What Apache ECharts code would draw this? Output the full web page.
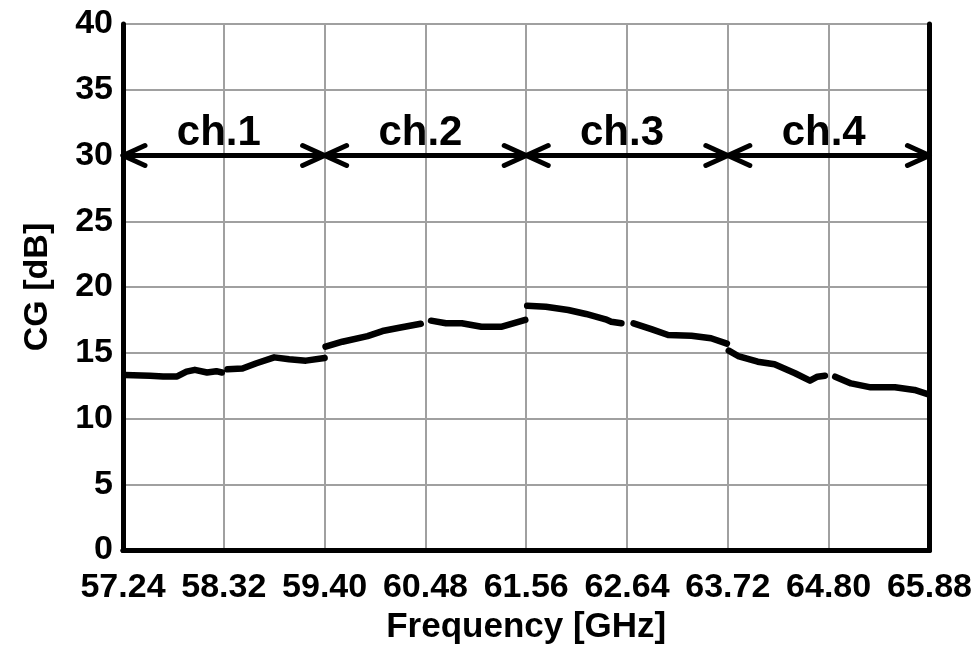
<!DOCTYPE html>
<html>
<head>
<meta charset="utf-8">
<title>CG vs Frequency</title>
<script src="https://cdn.jsdelivr.net/npm/echarts@6/dist/echarts.min.js"></script>
<style>
  html, body { margin: 0; padding: 0; background: #fff; }
  #chart { width: 975px; height: 654px; }
</style>
</head>
<body>
<div id="chart"></div>
<script>
// Measured conversion gain; '-' marks breaks in the trace
const freqGHz = [
  57.26, 57.53, 57.67, 57.82, 57.92, 58.01, 58.14, 58.24, 58.30, 58.33,
  58.36, 58.52, 58.67, 58.86, 59.02, 59.20, 59.40, 59.405,
  59.41, 59.59, 59.86, 60.02, 60.20, 60.43, 60.48,
  60.54, 60.70, 60.87, 61.08, 61.30, 61.55, 61.56,
  61.57, 61.77, 62.01, 62.20, 62.41, 62.47, 62.58, 62.64,
  62.71, 62.90, 63.08, 63.33, 63.54, 63.71, 63.72,
  63.73, 63.83, 64.04, 64.22, 64.44, 64.60, 64.68, 64.76, 64.80,
  64.87, 65.04, 65.25, 65.51, 65.72, 65.86
];
const cgDb = [
  13.30, 13.25, 13.20, 13.20, 13.56, 13.70, 13.50, 13.60, 13.50, '-',
  13.74, 13.80, 14.20, 14.65, 14.50, 14.40, 14.60, '-',
  15.46, 15.84, 16.27, 16.65, 16.90, 17.20, '-',
  17.44, 17.24, 17.24, 16.98, 16.98, 17.50, '-',
  18.58, 18.50, 18.25, 17.95, 17.54, 17.36, 17.24, '-',
  17.24, 16.80, 16.35, 16.30, 16.10, 15.70, '-',
  15.16, 14.75, 14.32, 14.12, 13.44, 12.88, 13.18, 13.25, '-',
  13.18, 12.67, 12.37, 12.37, 12.17, 11.86
];

// Channel bands drawn as double-headed arrows at 30 dB
const channelNames = ['ch.1', 'ch.2', 'ch.3', 'ch.4'];
const channelStart = [57.24, 59.40, 61.56, 63.72];
const channelEnd = [59.40, 61.56, 63.72, 65.88];
const channelLevel = 30;

const xMin = 57.24, xMax = 65.88, xStep = 1.08;
const yMin = 0, yMax = 40, yStep = 5;

const FONT = '"Liberation Sans", Arial, sans-serif';

const curve = freqGHz.map((f, i) => [f, cgDb[i]]);
const bands = channelStart.map((s, i) => [s, channelEnd[i], channelLevel, i]);

const chart = echarts.init(document.getElementById('chart'), null, { renderer: 'canvas' });

const hiddenAxis = {
  axisLabel: { show: false }, axisTick: { show: false }, splitLine: { show: false },
  axisLine: { show: true, lineStyle: { color: '#000', width: 5 } }
};

chart.setOption({
  backgroundColor: '#fff',
  animation: false,
  grid: { left: 123, right: 43, top: 24, bottom: 104, containLabel: false },
  xAxis: [{
    type: 'value', min: xMin, max: xMax, interval: xStep,
    name: 'Frequency [GHz]', nameLocation: 'middle', nameGap: 51,
    nameTextStyle: { fontFamily: FONT, fontWeight: 'bold', fontSize: 35, color: '#000' },
    axisLine: { show: true, onZero: false, lineStyle: { color: '#000', width: 5 } },
    axisTick: { show: false },
    axisLabel: {
      fontFamily: FONT, fontWeight: 'bold', fontSize: 34, color: '#000', margin: 21,
      formatter: v => v.toFixed(2)
    },
    splitLine: { show: true, lineStyle: { color: '#a0a0a0', width: 2 } }
  }, Object.assign({ type: 'value', min: xMin, max: xMax, position: 'top' }, hiddenAxis)],
  yAxis: [{
    type: 'value', min: yMin, max: yMax, interval: yStep,
    name: 'CG [dB]', nameLocation: 'middle', nameGap: 68,
    nameTextStyle: { fontFamily: FONT, fontWeight: 'bold', fontSize: 34, color: '#000' },
    axisLine: { show: true, onZero: false, lineStyle: { color: '#000', width: 5 } },
    axisTick: { show: false },
    axisLabel: { fontFamily: FONT, fontWeight: 'bold', fontSize: 34, color: '#000', margin: 10 },
    splitLine: { show: true, lineStyle: { color: '#a0a0a0', width: 2 } }
  }, Object.assign({ type: 'value', min: yMin, max: yMax, position: 'right' }, hiddenAxis)],
  series: [
    {
      type: 'line',
      data: curve,
      showSymbol: false,
      symbol: 'none',
      connectNulls: false,
      lineStyle: { color: '#000', width: 6.5, cap: 'round', join: 'round' },
      z: 5
    },
    {
      type: 'custom',
      data: bands,
      z: 6,
      renderItem: (params, api) => {
        const a = api.coord([api.value(0), api.value(2)]);
        const b = api.coord([api.value(1), api.value(2)]);
        const head = 22, spread = 10;
        const stroke = { stroke: '#000', lineWidth: 5, fill: null, lineCap: 'round', lineJoin: 'round' };
        const idx = api.value(3);
        return {
          type: 'group',
          children: [
            { type: 'line', shape: { x1: a[0], y1: a[1], x2: b[0], y2: b[1] }, style: stroke },
            { type: 'polyline', shape: { points: [[a[0] + head, a[1] - spread], [a[0], a[1]], [a[0] + head, a[1] + spread]] }, style: stroke },
            { type: 'polyline', shape: { points: [[b[0] - head, b[1] - spread], [b[0], b[1]], [b[0] - head, b[1] + spread]] }, style: stroke },
            {
              type: 'text',
              x: (a[0] + b[0]) / 2 - 5,
              y: a[1] - 22,
              style: {
                text: channelNames[idx],
                fontFamily: FONT, fontWeight: 'bold', fontSize: 42, fill: '#000',
                align: 'center', verticalAlign: 'middle'
              }
            }
          ]
        };
      }
    }
  ]
});
</script>
</body>
</html>
